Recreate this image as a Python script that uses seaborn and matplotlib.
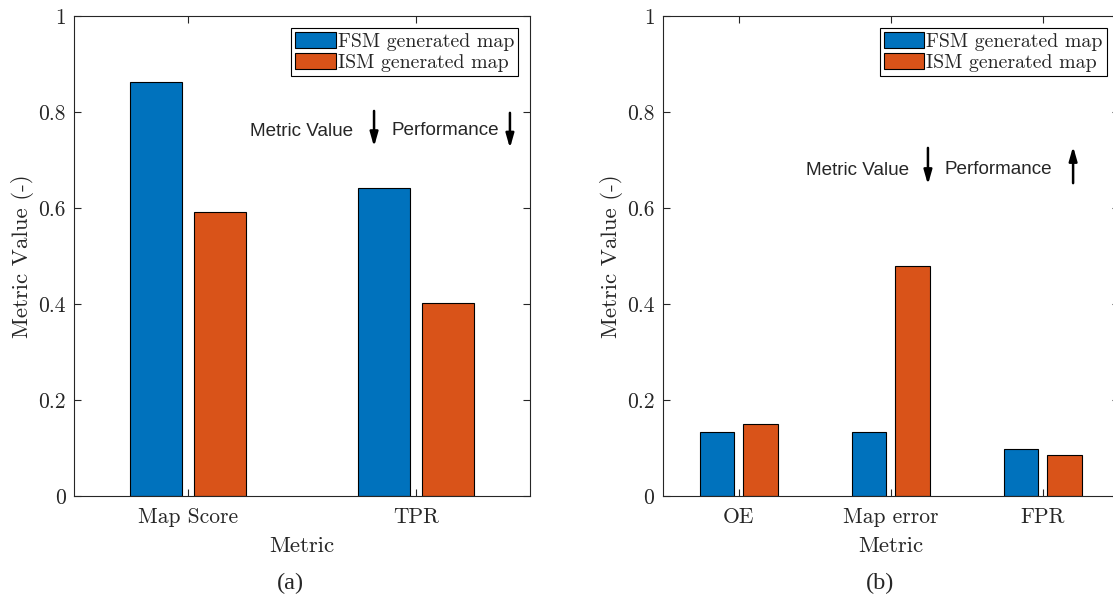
import matplotlib
matplotlib.use("Agg")
import matplotlib.pyplot as plt
import seaborn as sns
import pandas as pd

# ---- data ----
metrics_a = ["Map Score", "TPR"]
fsm_a = [0.863, 0.642]
ism_a = [0.592, 0.402]

metrics_b = ["OE", "Map error", "FPR"]
fsm_b = [0.133, 0.133, 0.097]
ism_b = [0.149, 0.479, 0.085]

series = ["FSM generated map", "ISM generated map"]
yticks = [0, 0.2, 0.4, 0.6, 0.8, 1]
ytick_labels = ["0", "0.2", "0.4", "0.6", "0.8", "1"]
colors = ["#0072BD", "#D95319"]

sns.set_theme(style="white")
plt.rcParams["font.family"] = ["cmr10", "DejaVu Serif"]
plt.rcParams["axes.formatter.use_mathtext"] = True
plt.rcParams["mathtext.fontset"] = "cm"

W, H = 1113, 599
fig = plt.figure(figsize=(W / 100, H / 100), dpi=100)

def px_axes(x0, x1, ytop, ybot):
    return fig.add_axes([x0 / W, 1 - ybot / H, (x1 - x0) / W, (ybot - ytop) / H])

ax1 = px_axes(74, 530, 16, 496)
ax2 = px_axes(662.7, 1118.7, 16, 496)

def make_df(metrics, a, b):
    rows = []
    for m, v in zip(metrics, a):
        rows.append({"Metric": m, "Value": v, "Series": series[0]})
    for m, v in zip(metrics, b):
        rows.append({"Metric": m, "Value": v, "Series": series[1]})
    return pd.DataFrame(rows)

spine_c = "#262626"
for ax, metrics, a, b in [(ax1, metrics_a, fsm_a, ism_a), (ax2, metrics_b, fsm_b, ism_b)]:
    df = make_df(metrics, a, b)
    sns.barplot(data=df, x="Metric", y="Value", hue="Series", order=metrics,
                hue_order=series, palette=colors, width=0.57, gap=0.2,
                edgecolor="black", linewidth=0.8, saturation=1, ax=ax)
    ax.set_xlim(-0.5, len(metrics) - 0.5)
    ax.set_ylim(0, 1)
    ax.set_yticks(yticks)
    ax.set_yticklabels(ytick_labels)
    ax.tick_params(axis="both", which="both", direction="in", length=5, width=0.8,
                   top=True, right=True, bottom=True, left=True,
                   labelsize=15.5, colors=spine_c, labelcolor="#262626", pad=6)
    ax.tick_params(axis="x", pad=8)
    for s in ax.spines.values():
        s.set_visible(True)
        s.set_color(spine_c)
        s.set_linewidth(0.8)
    ax.set_xlabel("Metric", fontsize=16.5, labelpad=7, color="#262626")
    ax.set_ylabel("Metric Value (-)", fontsize=16.5, labelpad=3, color="#262626")
    leg = ax.legend(loc="upper right", fontsize=14.3, frameon=True, fancybox=False,
                    edgecolor="black", framealpha=1, borderpad=0.2, labelspacing=0.1,
                    handlelength=2.05, handleheight=0.9, handletextpad=0.1,
                    borderaxespad=0.6)
    leg.get_frame().set_linewidth(0.8)
    ax.grid(False)

# annotations (sans serif)
sans = ["Liberation Sans", "DejaVu Sans"]
arrow_kw = dict(arrowstyle="-|>,head_length=0.7,head_width=0.2", color="black", lw=1.8)
fs_ann = 13.6

ax1.text(0.5, 0.76, "Metric Value", family=sans, fontsize=fs_ann, ha="center", va="center")
ax1.annotate("", xy=(0.816, 0.722), xytext=(0.816, 0.808), arrowprops=arrow_kw)
ax1.text(1.127, 0.762, "Performance", family=sans, fontsize=fs_ann, ha="center", va="center")
ax1.annotate("", xy=(1.412, 0.719), xytext=(1.412, 0.804), arrowprops=arrow_kw)

ax2.text(0.78, 0.679, "Metric Value", family=sans, fontsize=fs_ann, ha="center", va="center")
ax2.annotate("", xy=(1.245, 0.643), xytext=(1.245, 0.731), arrowprops=arrow_kw)
ax2.text(1.71, 0.681, "Performance", family=sans, fontsize=fs_ann, ha="center", va="center")
ax2.annotate("", xy=(2.20, 0.734), xytext=(2.20, 0.646), arrowprops=arrow_kw)

serif = ["Liberation Serif", "DejaVu Serif"]
fig.text(290 / W, 1 - 583 / H, "(a)", family=serif, fontsize=17.5, ha="center", va="center")
fig.text(880 / W, 1 - 583 / H, "(b)", family=serif, fontsize=17.5, ha="center", va="center")

fig.savefig("out.png", dpi=100)
